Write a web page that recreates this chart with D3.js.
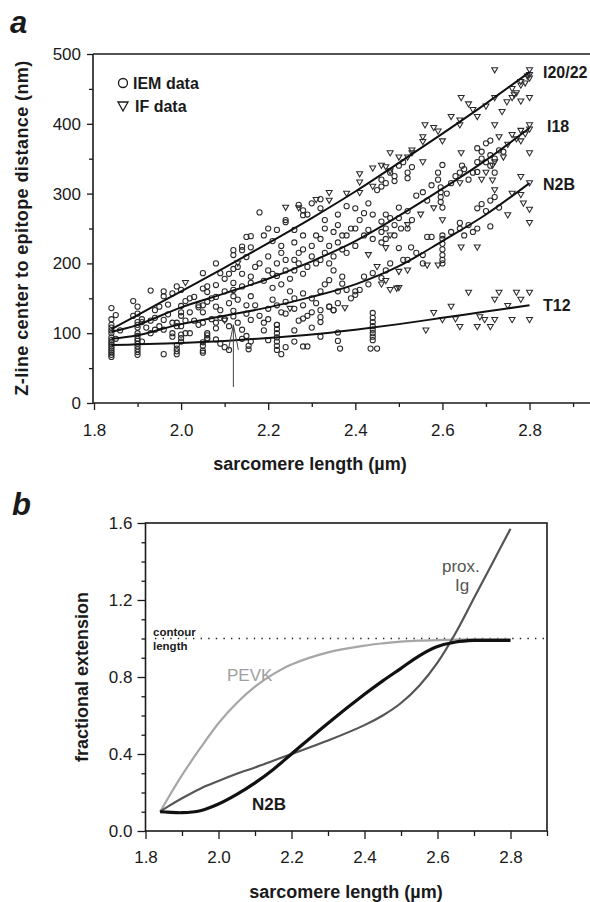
<!DOCTYPE html>
<html><head><meta charset="utf-8">
<script src="https://cdn.jsdelivr.net/npm/d3@7"></script>
<style>
body{margin:0;background:#fff;}
text{font-family:"Liberation Sans",Arial,Helvetica,sans-serif;}
</style></head><body>
<svg id="chart" width="590" height="902"></svg>
<script>
// ---------------- DATA: panel a ----------------
const xTicksA = [1.8, 2.0, 2.2, 2.4, 2.6, 2.8];
const xMinorA = [1.9, 2.1, 2.3, 2.5, 2.7, 2.9];
const yTicksA = [0, 100, 200, 300, 400, 500];
const yMinorA = [50, 150, 250, 350, 450];

const fitSL  = [1.84, 1.9, 2.0, 2.1, 2.2, 2.3, 2.4, 2.5, 2.6, 2.7, 2.8];
const fitI20 = [106, 126, 160, 194, 229, 265, 303, 344, 386, 429, 474];
const fitI18 = [102, 112, 137, 157, 178, 203, 232, 268, 307, 348, 394];
const fitN2B = [92, 97, 113, 125, 137, 152, 170, 196, 232, 270, 315];
const fitT12 = [83, 84, 86, 89, 93, 98, 105, 113, 122, 131, 140];
const fitLabels = ["I20/22", "I18", "N2B", "T12"];

const iemI20 = [[1.84,112],[1.84,120],[1.84,136],[1.85,126],[1.89,146],[1.89,125],[1.90,138],[1.90,128],[1.91,116],
[1.93,161],[1.94,133],[1.95,138],[1.96,153],[1.96,160],[1.97,141],[1.98,157],[1.99,167],[2.00,162],
[2.00,139],[2.01,146],[2.02,150],[2.03,152],[2.04,137],[2.05,186],[2.05,164],[2.06,159],[2.06,167],
[2.08,169],[2.08,200],[2.09,186],[2.10,178],[2.11,185],[2.12,192],[2.12,212],[2.12,219],[2.13,195],
[2.14,219],[2.14,224],[2.15,209],[2.15,238],[2.16,239],[2.16,223],[2.18,273],[2.19,240],[2.20,250],
[2.21,232],[2.22,248],[2.23,225],[2.24,259],[2.24,262],[2.26,248],[2.27,284],[2.28,276],[2.28,269],
[2.29,270],[2.30,286],[2.32,292],[2.32,279],[2.33,262],[2.36,270],[2.38,282],[2.40,279],[2.42,272],
[2.43,286],[2.45,305],[2.46,310],[2.46,320],[2.47,315],[2.47,270],[2.48,330],[2.49,325],[2.49,318],
[2.50,340],[2.51,345],[2.52,330],[2.52,322],[2.53,338]];
const ifI20 = [[2.01,172],[2.13,200],[2.24,280],[2.27,279],[2.31,291],[2.34,301],[2.34,290],[2.38,300],[2.41,301],
[2.41,316],[2.41,328],[2.44,310],[2.44,336],[2.46,340],[2.47,338],[2.48,358],[2.48,332],[2.50,352],
[2.52,352],[2.53,358],[2.53,362],[2.555,381],[2.555,374],[2.555,345],[2.56,398],[2.58,394],[2.59,389],
[2.60,375],[2.62,410],[2.64,398],[2.643,437],[2.64,405],[2.66,428],[2.67,420],[2.68,410],[2.70,425],
[2.72,477],[2.72,437],[2.737,417],[2.748,431],[2.76,437],[2.765,441],[2.77,444],[2.78,432],[2.76,450],
[2.78,455],[2.78,460],[2.79,458],[2.795,468],[2.80,437],[2.80,465],[2.80,470],[2.80,477]];
const iemI18 = [[1.84,100],[1.84,104],[1.84,108],[1.86,104],[1.90,108],[1.90,112],[1.90,116],[1.91,120],[1.92,108],
[1.93,118],[1.94,122],[1.95,110],[1.96,119],[1.97,127],[1.98,115],[1.99,115],[2.00,125],[2.00,130],[2.02,130],
[2.03,118],[2.04,140],[2.05,130],[2.05,140],[2.06,145],[2.07,150],[2.08,152],[2.08,138],[2.09,133],[2.10,160],
[2.11,143],[2.12,153],[2.12,162],[2.12,172],[2.13,148],[2.14,167],[2.14,185],[2.15,140],[2.16,181],[2.16,172],
[2.16,153],[2.17,195],[2.18,200],[2.19,175],[2.20,190],[2.20,210],[2.21,165],[2.21,185],[2.22,200],[2.22,182],
[2.23,170],[2.23,215],[2.24,190],[2.24,205],[2.25,178],[2.26,205],[2.26,230],[2.26,190],[2.27,200],[2.27,215],
[2.28,220],[2.28,240],[2.28,185],[2.29,195],[2.30,210],[2.30,225],[2.31,200],[2.31,240],[2.32,235],[2.32,205],
[2.33,215],[2.33,250],[2.34,225],[2.34,200],[2.35,245],[2.35,210],[2.36,230],[2.36,255],[2.37,220],[2.37,240],
[2.38,240],[2.38,215],[2.39,250],[2.40,250],[2.40,225],[2.41,262],[2.42,240],[2.43,248],[2.44,235],[2.44,270],
[2.46,260],[2.46,245],[2.46,230],[2.47,250],[2.47,235],[2.48,265],[2.49,255],[2.49,240],[2.50,265],[2.50,280],
[2.52,275],[2.52,250],[2.53,262],[2.54,297],[2.555,302],[2.565,290],[2.575,312],[2.59,320],[2.59,330],[2.60,341],
[2.596,288],[2.596,295],[2.596,302],[2.596,309],[2.60,280],[2.61,300],[2.62,315],[2.63,325],[2.64,330],[2.645,340],
[2.65,335],[2.66,320],[2.67,330],[2.68,331],[2.68,345],[2.68,365],[2.69,350],[2.69,360],[2.70,372],[2.70,345],
[2.71,340],[2.71,376],[2.71,355],[2.72,350],[2.72,330],[2.73,362],[2.74,360]];
const ifI18 = [[2.43,212],[2.48,240],[2.47,222],[2.52,255],[2.55,270],[2.58,279],[2.60,262],[2.64,315],[2.643,358],
[2.69,320],[2.70,330],[2.715,319],[2.715,340],[2.72,398],[2.72,345],[2.73,381],[2.74,352],[2.75,370],[2.76,384],
[2.77,378],[2.78,390],[2.79,385],[2.80,398],[2.80,392],[2.80,358],[2.78,375]];
const iemN2B = [[1.84,90],[1.84,94],[1.85,92],[1.90,92],[1.90,96],[1.90,100],[1.91,88],[1.93,100],[1.94,105],
[1.96,105],[1.98,100],[1.99,110],[2.00,110],[2.01,118],[2.02,100],[2.04,112],[2.05,115],[2.06,93],[2.06,100],
[2.07,120],[2.08,107],[2.08,115],[2.09,122],[2.10,120],[2.11,110],[2.12,124],[2.12,132],[2.13,115],[2.14,105],
[2.15,128],[2.16,119],[2.17,140],[2.18,125],[2.19,115],[2.20,135],[2.20,120],[2.21,148],[2.22,140],[2.22,112],
[2.23,130],[2.24,145],[2.24,128],[2.25,160],[2.26,135],[2.26,150],[2.27,118],[2.28,157],[2.28,140],[2.29,125],
[2.30,150],[2.30,130],[2.31,143],[2.32,133],[2.32,160],[2.33,170],[2.34,138],[2.34,176],[2.35,190],[2.35,133],
[2.36,143],[2.36,160],[2.37,181],[2.37,171],[2.38,162],[2.39,150],[2.40,160],[2.40,155],[2.41,162],[2.42,181],
[2.43,170],[2.44,186],[2.46,179],[2.47,190],[2.48,200],[2.50,222],[2.505,250],[2.51,205],[2.52,205],[2.528,223],
[2.54,215],[2.555,212],[2.555,200],[2.565,238],[2.575,238],[2.60,200],[2.60,205],[2.60,212],[2.60,220],[2.60,228],
[2.60,235],[2.60,240],[2.62,245],[2.64,258],[2.64,250],[2.65,240],[2.66,255],[2.67,245],[2.68,250],[2.68,279],
[2.69,285],[2.70,275],[2.71,253],[2.71,290],[2.72,295],[2.73,280]];
const ifN2B = [[2.10,118],[2.25,135],[2.46,170],[2.47,175],[2.48,162],[2.495,164],[2.45,195],[2.50,188],[2.52,190],
[2.50,165],[2.565,197],[2.59,197],[2.643,223],[2.68,223],[2.75,269],[2.78,298],[2.786,286],[2.80,277],[2.80,258],
[2.78,324],[2.80,315],[2.76,300],[2.72,305]];
const iemT12 = [[1.84,66],[1.84,69],[1.84,72],[1.84,75],[1.84,78],[1.84,81],[1.84,84],[1.84,87],
[1.90,69],[1.90,73],[1.90,77],[1.90,81],[1.90,85],[1.90,89],[1.96,70],
[1.99,70],[1.99,74],[1.99,78],[1.99,83],[2.00,88],[2.00,93],[2.00,98],[1.98,95],[2.01,100],
[2.05,72],[2.05,75],[2.05,82],[2.05,87],[2.06,92],[2.06,97],[2.08,91],[2.09,85],[2.10,80],[2.11,76],
[2.15,96],[2.155,82],[2.155,77],[2.16,88],[2.14,92],
[2.19,104],[2.20,90],[2.22,76],[2.22,82],[2.22,88],[2.22,94],[2.22,100],[2.22,106],[2.22,112],[2.23,70],[2.24,80],
[2.26,104],[2.26,88],[2.28,81],[2.28,121],[2.29,81],[2.30,108],[2.32,123],[2.32,95],[2.32,116],[2.34,138],[2.35,133],
[2.36,101],[2.36,89],[2.365,78],
[2.44,90],[2.44,95],[2.44,100],[2.44,105],[2.44,110],[2.44,116],[2.44,122],[2.44,129],[2.435,78],[2.45,78]];
const ifT12 = [[2.376,136],[2.562,104],[2.58,129],[2.60,119],[2.62,138],[2.63,120],[2.64,109],[2.66,158],[2.68,109],
[2.686,123],[2.697,119],[2.71,109],[2.72,148],[2.73,158],[2.72,119],[2.75,139],[2.76,119],[2.77,158],
[2.78,148],[2.80,158],[2.80,119]];

const arrowSL = 2.12, arrowFrom = 23, arrowTo = 112;

// ---------------- DATA: panel b ----------------
const xTicksB = [1.8, 2.0, 2.2, 2.4, 2.6, 2.8];
const xMinorB = [1.9, 2.1, 2.3, 2.5, 2.7, 2.9];
const yTicksB = [0.0, 0.4, 0.8, 1.2, 1.6];
const yMinorB = [0.1,0.2,0.3,0.5,0.6,0.7,0.9,1.0,1.1,1.3,1.4,1.5];
const bSL    = [1.84, 1.86, 1.9, 1.95, 2.0, 2.05, 2.1, 2.15, 2.2, 2.3, 2.4, 2.45, 2.5, 2.55, 2.6, 2.65, 2.7, 2.75, 2.8];
const bPEVK  = [0.10, 0.165, 0.29, 0.43, 0.56, 0.665, 0.75, 0.815, 0.865, 0.928, 0.963, 0.975, 0.984, 0.989, 0.992, 0.994, 0.995, 0.995, 0.995];
const bN2B   = [0.10, 0.098, 0.095, 0.105, 0.14, 0.19, 0.25, 0.32, 0.40, 0.56, 0.71, 0.78, 0.845, 0.91, 0.958, 0.982, 0.99, 0.99, 0.99];
const bProx  = [0.10, 0.125, 0.17, 0.22, 0.26, 0.297, 0.33, 0.365, 0.40, 0.47, 0.55, 0.60, 0.665, 0.755, 0.875, 1.03, 1.21, 1.39, 1.57];
const contourLevel = 1.0;

// ---------------- DRAW ----------------
const svg = d3.select("#chart");
const fmt1 = d3.format(".1f");
const ink = "#1a1a1a";

function styleAxis(g, fs){
  g.select(".domain").remove();
  g.selectAll(".tick line").attr("stroke", ink).attr("stroke-width", 1.3);
  g.selectAll(".tick text").attr("fill", ink).attr("font-size", fs)
   .attr("font-family", '"Liberation Sans",Arial,sans-serif');
}

// ===== Panel a =====
const xA = d3.scaleLinear().domain([1.8, 2.94]).range([94, 590.5]);
const yA = d3.scaleLinear().domain([0, 500]).range([403, 54]);
const gA = svg.append("g");

gA.append("g").attr("transform","translate(0,403)")
  .call(d3.axisBottom(xA).tickValues(xTicksA).tickFormat(fmt1).tickSize(7).tickPadding(14))
  .call(g=>styleAxis(g,17));
gA.append("g").attr("transform","translate(0,403)")
  .call(d3.axisBottom(xA).tickValues(xMinorA).tickFormat("").tickSize(4))
  .call(g=>styleAxis(g,17));
gA.append("g").attr("transform","translate(93,0)")
  .call(d3.axisLeft(yA).tickValues(yTicksA).tickFormat(d3.format("d")).tickSize(6).tickPadding(6))
  .call(g=>styleAxis(g,17));
gA.append("g").attr("transform","translate(93,0)")
  .call(d3.axisLeft(yA).tickValues(yMinorA).tickFormat("").tickSize(4))
  .call(g=>styleAxis(g,17));

// frame
gA.append("line").attr("x1",93).attr("x2",590).attr("y1",yA(0)).attr("y2",yA(0)).attr("stroke",ink).attr("stroke-width",1.6);
gA.append("line").attr("x1",93).attr("x2",590).attr("y1",yA(500)).attr("y2",yA(500)).attr("stroke",ink).attr("stroke-width",1.6);
gA.append("line").attr("x1",93).attr("x2",93).attr("y1",yA(0)).attr("y2",yA(500)).attr("stroke",ink).attr("stroke-width",1.6);

// markers
const triPath = "M-3,-2.4L3,-2.4L0,2.8Z";
const iemAll = [].concat(iemT12, iemN2B, iemI18, iemI20);
const ifAll = [].concat(ifT12, ifN2B, ifI18, ifI20);
gA.append("g").selectAll("circle").data(iemAll).join("circle")
  .attr("cx", d=>xA(d[0])).attr("cy", d=>yA(d[1])).attr("r", 2.6)
  .attr("fill","none").attr("stroke","#2a2a2a").attr("stroke-width",1.05);
gA.append("g").selectAll("path").data(ifAll).join("path")
  .attr("d", triPath).attr("transform", d=>`translate(${xA(d[0])},${yA(d[1])})`)
  .attr("fill","none").attr("stroke","#2a2a2a").attr("stroke-width",1.05);

// fit lines
const fits = [fitI20, fitI18, fitN2B, fitT12];
const lineA = d3.line().x(d=>xA(d[0])).y(d=>yA(d[1])).curve(d3.curveCatmullRom.alpha(0.5));
fits.forEach(f=>{
  gA.append("path").attr("d", lineA(fitSL.map((s,i)=>[s,f[i]])))
    .attr("fill","none").attr("stroke","#111").attr("stroke-width",2);
});
// line labels
const labelY = [78, 132, 190, 311];
const labelX = [543, 547, 543, 543];
fitLabels.forEach((t,i)=>{
  gA.append("text").attr("x",labelX[i]).attr("y",labelY[i]).text(t)
    .attr("font-size",16).attr("font-weight","bold").attr("fill",ink);
});

// arrow
const ax = xA(arrowSL), ay = yA(arrowTo);
gA.append("line").attr("x1",ax).attr("x2",ax).attr("y1",yA(arrowFrom)).attr("y2",ay)
  .attr("stroke","#444").attr("stroke-width",1);
gA.append("path").attr("d",`M${ax-5},${ay+25}L${ax},${ay}L${ax+5},${ay+25}`)
  .attr("fill","none").attr("stroke","#444").attr("stroke-width",1);

// legend
gA.append("circle").attr("cx",123).attr("cy",83).attr("r",4.5).attr("fill","none").attr("stroke",ink).attr("stroke-width",1.3);
gA.append("path").attr("d","M-5,-4L5,-4L0,5Z").attr("transform","translate(123,106)")
  .attr("fill","none").attr("stroke",ink).attr("stroke-width",1.3);
gA.append("text").attr("x",133).attr("y",89).text("IEM data").attr("font-size",16).attr("font-weight","bold").attr("fill",ink);
gA.append("text").attr("x",135).attr("y",112).text("IF data").attr("font-size",16).attr("font-weight","bold").attr("fill",ink);

// titles
gA.append("text").attr("transform","translate(28,228) rotate(-90)").attr("text-anchor","middle")
  .text("Z-line center to epitope distance (nm)").attr("font-size",18).attr("font-weight","bold")
  .attr("letter-spacing",0.4).attr("fill",ink);
gA.append("text").attr("x",310).attr("y",470).attr("text-anchor","middle")
  .text("sarcomere length (µm)").attr("font-size",18).attr("font-weight","bold").attr("fill",ink);
svg.append("text").attr("x",10).attr("y",33).text("a").attr("font-size",31)
  .attr("font-weight","bold").attr("font-style","italic").attr("fill",ink);

// ===== Panel b =====
const xB = d3.scaleLinear().domain([1.8, 2.9]).range([145.5, 547]);
const yB = d3.scaleLinear().domain([0, 1.6]).range([831, 523]);
const gB = svg.append("g");

gB.append("g").attr("transform","translate(0,831)")
  .call(d3.axisBottom(xB).tickValues(xTicksB).tickFormat(fmt1).tickSize(8).tickPadding(12))
  .call(g=>styleAxis(g,17));
gB.append("g").attr("transform","translate(0,831)")
  .call(d3.axisBottom(xB).tickValues(xMinorB).tickFormat("").tickSize(5))
  .call(g=>styleAxis(g,17));
gB.append("g").attr("transform","translate(145.5,0)")
  .call(d3.axisLeft(yB).tickValues(yTicksB).tickFormat(fmt1).tickSize(8).tickPadding(5))
  .call(g=>styleAxis(g,17));
gB.append("g").attr("transform","translate(145.5,0)")
  .call(d3.axisLeft(yB).tickValues(yMinorB).tickFormat("").tickSize(4))
  .call(g=>styleAxis(g,17));

gB.append("rect").attr("x",145.5).attr("y",523).attr("width",547-145.5).attr("height",831-523)
  .attr("fill","none").attr("stroke",ink).attr("stroke-width",1.6);

// contour dotted line
gB.append("line").attr("x1",155).attr("x2",547).attr("y1",yB(contourLevel)).attr("y2",yB(contourLevel))
  .attr("stroke","#222").attr("stroke-width",1.6).attr("stroke-dasharray","1.4,6.2");
gB.append("text").attr("x",153).attr("y",636).text("contour").attr("font-size",11.5).attr("font-weight","bold").attr("fill",ink);
gB.append("text").attr("x",153).attr("y",650).text("length").attr("font-size",11.5).attr("font-weight","bold").attr("fill",ink);

const lineB = d3.line().x(d=>xB(d[0])).y(d=>yB(d[1])).curve(d3.curveCatmullRom.alpha(0.5));
const mk = arr => bSL.map((s,i)=>[s,arr[i]]);
gB.append("path").attr("d",lineB(mk(bPEVK))).attr("fill","none").attr("stroke","#a6a6a6").attr("stroke-width",2.2);
gB.append("path").attr("d",lineB(mk(bProx))).attr("fill","none").attr("stroke","#555").attr("stroke-width",2.2);
gB.append("path").attr("d",lineB(mk(bN2B))).attr("fill","none").attr("stroke","#111").attr("stroke-width",3.2);

gB.append("text").attr("x",227).attr("y",681).text("PEVK").attr("font-size",17).attr("fill","#a0a0a0");
gB.append("text").attr("x",442).attr("y",572).text("prox.").attr("font-size",17).attr("fill","#555");
gB.append("text").attr("x",455).attr("y",591).text("Ig").attr("font-size",17).attr("fill","#555");
gB.append("text").attr("x",252).attr("y",810).text("N2B").attr("font-size",17).attr("font-weight","bold").attr("fill",ink);

gB.append("text").attr("transform","translate(88,677) rotate(-90)").attr("text-anchor","middle")
  .text("fractional extension").attr("font-size",18).attr("font-weight","bold").attr("fill",ink);
gB.append("text").attr("x",346).attr("y",898).attr("text-anchor","middle")
  .text("sarcomere length (µm)").attr("font-size",18).attr("font-weight","bold").attr("fill",ink);
svg.append("text").attr("x",12).attr("y",515).text("b").attr("font-size",31)
  .attr("font-weight","bold").attr("font-style","italic").attr("fill",ink);
</script>
</body></html>
